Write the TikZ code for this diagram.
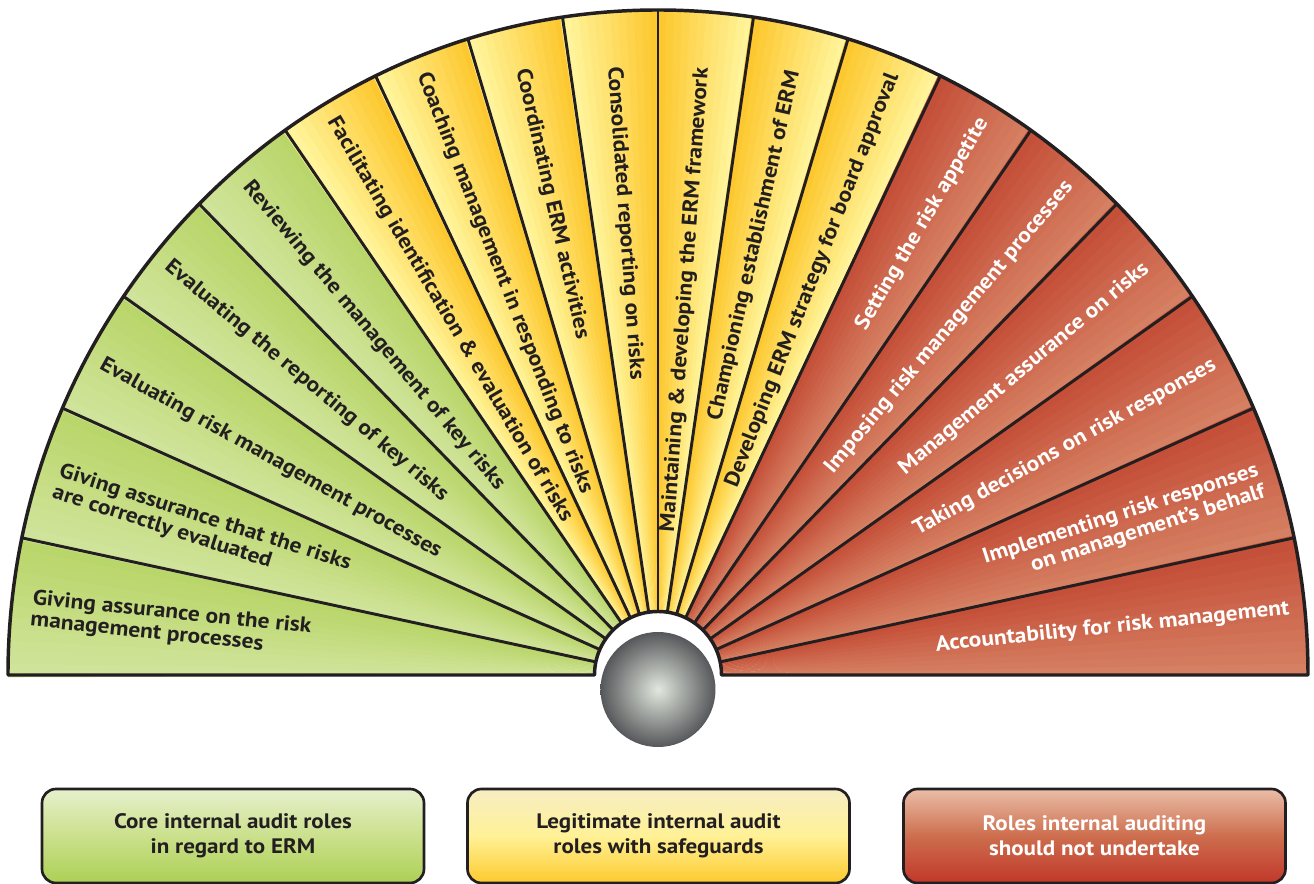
\documentclass[tikz,border=0pt]{standalone}
\usepackage{fontspec}
\setmainfont{PT Sans}[FakeStretch=1.1]

\definecolor{inkline}{RGB}{35,31,32}
\definecolor{coredark}{RGB}{184,213,104}
\definecolor{corelight}{RGB}{209,228,156}
\definecolor{safedark}{RGB}{253,198,42}
\definecolor{safelight}{RGB}{255,246,160}
\definecolor{notdark}{RGB}{196,78,55}
\definecolor{notlight}{RGB}{214,130,100}
\definecolor{ballmid}{RGB}{226,232,222}
\definecolor{ballrim}{RGB}{86,87,90}

\begin{document}
\begin{tikzpicture}[x=0.75pt,y=0.75pt,
  role/.style={inner sep=0pt, text=inkline, font=\bfseries\fontsize{16}{16.5}\selectfont},
  rolewhite/.style={role, text=white},
  keybox/.style={draw=inkline, line width=2pt, rounded corners=10.5pt, minimum width=286.5pt, minimum height=70.5pt, align=center, text=inkline, font=\bfseries\fontsize{15.7}{19}\selectfont}
]
\useasboundingbox (-658,-209) rectangle (656,675);

%Shape: Fan segments, each shaded across its width
\foreach \a/\b/\ca/\cb in {168.1/180/coredark/corelight, 156.35/168.1/coredark/corelight, 145.3/156.35/coredark/corelight, 134.9/145.3/coredark/corelight, 125/134.9/coredark/corelight,
  115.75/125/safedark/safelight, 107/115.75/safedark/safelight, 98.45/107/safedark/safelight, 90/98.45/safedark/safelight,
  81.55/90/safelight/safedark, 73/81.55/safelight/safedark, 64.25/73/safelight/safedark,
  55/64.25/notlight/notdark, 45.1/55/notlight/notdark, 34.7/45.1/notlight/notdark, 23.65/34.7/notlight/notdark, 11.9/23.65/notlight/notdark, 0/11.9/notlight/notdark}{
  \foreach \i in {0,...,11}{
    \pgfmathsetmacro{\ta}{\a+(\b-\a)*\i/12}
    \pgfmathsetmacro{\tb}{\a+(\b-\a)*(\i+1)/12+0.2}
    \pgfmathsetmacro{\mix}{100-100*(\i+0.5)/12}
    \colorlet{slicecol}{\ca!\mix!\cb}
    \fill[slicecol] (\ta:63.5) -- (\ta:650 and 665) arc[start angle=\ta, end angle=\tb, x radius=650, y radius=665] -- (\tb:63.5) arc[start angle=\tb, end angle=\ta, radius=63.5] -- cycle;
  }
}
%Straight Lines: rays between segments
\foreach \t in {11.9,23.65,34.7,45.1,55,64.25,73,81.55,90,98.45,107,115.75,125,134.9,145.3,156.35,168.1}
  \draw[inkline, line width=2.2pt] (\t:63.5) -- (\t:650 and 665);
%Shape: Fan outline
\draw[inkline, line width=2.6pt, line join=round] (-63.5,0) arc[start angle=180, end angle=0, radius=63.5] -- (650,0) arc[start angle=0, end angle=180, x radius=650, y radius=665] -- cycle;
%Shape: Circle
\shade[inner color=ballmid, outer color=ballrim] (0,-14.5) circle[radius=57.5];

% Text Node
\node[role, rotate=-5.95, anchor=west, align=left] (assurerisk) at (174.05:630) {Giving assurance on the risk\\management processes};
% Text Node
\node[role, rotate=-17.8, anchor=west, align=left] (assureeval) at (162.2:632) {Giving assurance that the risks\\are correctly evaluated};
% Text Node
\node[role, rotate=-29.2, anchor=west] (evalproc) at (150.8:638) {Evaluating risk management processes};
% Text Node
\node[role, rotate=-39.9, anchor=west] (evalreport) at (140.1:640) {Evaluating the reporting of key risks};
% Text Node
\node[role, rotate=-50.05, anchor=west] (reviewkey) at (129.95:641) {Reviewing the management of key risks};
% Text Node
\node[role, rotate=-59.6, anchor=west] (facilitate) at (120.4:645) {Facilitating identification \& evaluation of risks};
% Text Node
\node[role, rotate=-68.6, anchor=west] (coach) at (111.4:646) {Coaching management in responding to risks};
% Text Node
\node[role, rotate=-77.3, anchor=west] (coordinate) at (102.7:621) {Coordinating ERM activities};
% Text Node
\node[role, rotate=-85.8, anchor=west] (consolidate) at (94.2:610) {Consolidated reporting on risks};
% Text Node
\node[role, rotate=85.8, anchor=east] (maintain) at (85.8:609) {Maintaining \& developing the ERM framework};
% Text Node
\node[role, rotate=77.3, anchor=east] (champion) at (77.3:619) {Championing establishment of ERM};
% Text Node
\node[role, rotate=68.6, anchor=east] (strategy) at (68.6:646) {Developing ERM strategy for board approval};
% Text Node
\node[rolewhite, rotate=59.6, anchor=east] (appetite) at (59.6:644) {Setting the risk appetite};
% Text Node
\node[rolewhite, rotate=50.05, anchor=east] (imposing) at (50.05:641) {Imposing risk management processes};
% Text Node
\node[rolewhite, rotate=39.9, anchor=east] (mgmtassure) at (39.9:637) {Management assurance on risks};
% Text Node
\node[rolewhite, rotate=29.2, anchor=east] (decisions) at (29.2:638) {Taking decisions on risk responses};
% Text Node
\node[rolewhite, rotate=17.8, anchor=east, align=right] (implementing) at (17.8:634) {Implementing risk responses\\on management’s behalf};
% Text Node
\node[rolewhite, rotate=5.95, anchor=east] (accountable) at (5.95:635) {Accountability for risk management};

% Text Node: key boxes
\node[keybox, top color={rgb,255:red,230;green,240;blue,205}, bottom color={rgb,255:red,172;green,208;blue,85}, middle color={rgb,255:red,203;green,224;blue,140}] (corekey) at (-425,-161) {Core internal audit roles\\in regard to ERM};
\node[keybox, top color={rgb,255:red,246;green,238;blue,196}, bottom color={rgb,255:red,253;green,202;blue,45}, middle color={rgb,255:red,255;green,241;blue,150}] (safekey) at (0.5,-161) {Legitimate internal audit\\roles with safeguards};
\node[keybox, text=white, top color={rgb,255:red,234;green,190;blue,168}, bottom color={rgb,255:red,193;green,55;blue,42}, middle color={rgb,255:red,205;green,110;blue,78}] (notkey) at (436.5,-161) {Roles internal auditing\\should not undertake};

\end{tikzpicture}
\end{document}
